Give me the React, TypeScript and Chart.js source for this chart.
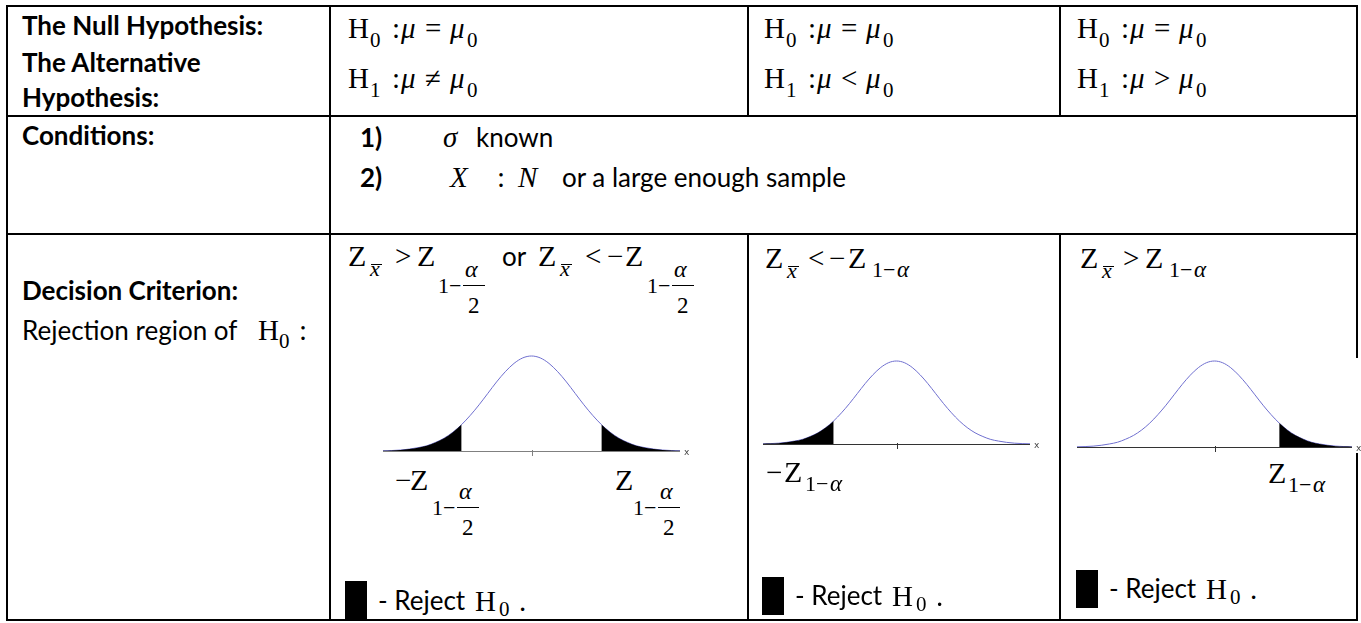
import React, { useEffect, useRef } from "react";
import { Chart, registerables } from "chart.js";

Chart.register(...registerables);

// ---- data ----
const zGrid = [-3.4, -3.2, -3.0, -2.8, -2.6, -2.4, -2.2, -2.0, -1.8, -1.6, -1.4, -1.2, -1.0, -0.8, -0.6, -0.4, -0.2, 0, 0.2, 0.4, 0.6, 0.8, 1.0, 1.2, 1.4, 1.6, 1.8, 2.0, 2.2, 2.4, 2.6, 2.8, 3.0, 3.2, 3.4];
const density = [0.001, 0.002, 0.004, 0.008, 0.014, 0.022, 0.036, 0.054, 0.079, 0.111, 0.150, 0.194, 0.242, 0.290, 0.333, 0.368, 0.391, 0.399, 0.391, 0.368, 0.333, 0.290, 0.242, 0.194, 0.150, 0.111, 0.079, 0.054, 0.036, 0.022, 0.014, 0.008, 0.004, 0.002, 0.001];
const twoTailedRegions = [[-3.4, -1.6], [1.6, 3.4]];
const leftTailRegions = [[-3.4, -1.6]];
const rightTailRegions = [[1.6, 3.4]];

const SERIF = '"Liberation Serif", "Times New Roman", serif';
const SANS = 'Lato, "Open Sans", sans-serif';
const KB: Record<string, number> = { serif: 0.8375, sans: 0.887 };

type TP = { x: number; y: number; s: string; f?: "serif" | "sans"; size?: number; it?: boolean; b?: boolean };
function T({ x, y, s, f = "serif", size = 29, it = false, b = false }: TP) {
  return (
    <div
      style={{
        position: "absolute",
        left: x,
        top: y - KB[f] * size,
        fontFamily: f === "serif" ? SERIF : SANS,
        fontSize: size,
        lineHeight: 1,
        fontStyle: it ? "italic" : "normal",
        fontWeight: b ? 700 : 400,
        whiteSpace: "pre",
        color: "#000",
      }}
    >
      {s}
    </div>
  );
}

function HL({ x, y, w, h = 1 }: { x: number; y: number; w: number; h?: number }) {
  return <div style={{ position: "absolute", left: x, top: y, width: w, height: h, background: "#000" }} />;
}

function Box({ x, y, w, h }: { x: number; y: number; w: number; h: number }) {
  return <div style={{ position: "absolute", left: x, top: y, width: w, height: h, background: "#000" }} />;
}

type Geo = { cl: number; ct: number; cw: number; ch: number; ax0: number; ax1: number; axY: number; peakY: number; axisColor: string };

function Curve({ regions, g }: { regions: number[][]; g: Geo }) {
  const ref = useRef<HTMLCanvasElement>(null);
  useEffect(() => {
    const pts = zGrid.map((x, i) => ({ x, y: density[i] }));
    const padTop = 1;
    const areaH = g.axY - (g.ct + padTop);
    const ymax = (0.399 * areaH) / (g.axY - g.peakY);
    const datasets: any[] = regions.map(([a, b]) => ({
      data: pts.filter((p) => p.x >= a - 1e-9 && p.x <= b + 1e-9),
      borderWidth: 0,
      borderColor: "rgba(0,0,0,0)",
      backgroundColor: "#000",
      fill: "origin",
      pointRadius: 0,
      cubicInterpolationMode: "monotone",
    }));
    datasets.push({
      data: pts,
      borderColor: "#6f6fcf",
      borderWidth: 1,
      fill: false,
      pointRadius: 0,
      cubicInterpolationMode: "monotone",
    });
    const axisPlugin = {
      id: "axisLine",
      beforeDatasetsDraw(chart: any) {
        const { ctx, chartArea, scales } = chart;
        const y0 = Math.round(scales.y.getPixelForValue(0));
        const xc = Math.round(scales.x.getPixelForValue(0));
        ctx.save();
        ctx.strokeStyle = g.axisColor;
        ctx.lineWidth = 1;
        ctx.beginPath();
        ctx.moveTo(chartArea.left, y0 + 0.5);
        ctx.lineTo(chartArea.right, y0 + 0.5);
        ctx.stroke();
        ctx.beginPath();
        ctx.moveTo(xc + 0.5, y0 - 1);
        ctx.lineTo(xc + 0.5, y0 + 5);
        ctx.stroke();
        ctx.fillStyle = "#444";
        ctx.font = '9px "DejaVu Sans"';
        ctx.textBaseline = "middle";
        ctx.fillText("x", chartArea.right + 4, y0 + 2);
        ctx.restore();
      },
    };
    const chart = new Chart(ref.current as HTMLCanvasElement, {
      type: "line",
      data: { datasets },
      options: {
        animation: false,
        responsive: false,
        maintainAspectRatio: false,
        events: [],
        layout: {
          padding: {
            left: g.ax0 - g.cl,
            right: g.cl + g.cw - g.ax1,
            top: padTop,
            bottom: g.ct + g.ch - g.axY,
          },
        },
        plugins: { legend: { display: false }, tooltip: { enabled: false } },
        scales: {
          x: { type: "linear", min: -3.4, max: 3.4, display: false },
          y: { min: 0, max: ymax, display: false },
        },
      },
      plugins: [axisPlugin],
    } as any);
    return () => chart.destroy();
  }, []);
  return (
    <canvas
      ref={ref}
      width={g.cw}
      height={g.ch}
      style={{ position: "absolute", left: g.cl, top: g.ct, width: g.cw, height: g.ch, background: "#fff" }}
    />
  );
}

function Hyp({ x, y, sub, rel }: { x: number; y: number; sub: string; rel: string }) {
  return (
    <>
      <T x={x} y={y} s="H" />
      <T x={x + 22} y={y + 10} s={sub} size={21} />
      <T x={x + 44} y={y} s=":" />
      <T x={x + 53} y={y} s="μ" it />
      <T x={x + 77} y={y} s={rel} />
      <T x={x + 102} y={y} s="μ" it />
      <T x={x + 119} y={y + 10} s="0" size={21} />
    </>
  );
}

// Z_{1 - α/2} style subscript block
function HalfSub({ x, y }: { x: number; y: number }) {
  return (
    <>
      <T x={x} y={y + 27} s="1" size={22} />
      <T x={x + 11} y={y + 27} s="−" size={22} />
      <T x={x + 27} y={y + 11} s="α" size={24} it />
      <HL x={x + 25} y={y + 19} w={22} />
      <T x={x + 30} y={y + 47} s="2" size={23} />
    </>
  );
}

function OneMinusAlpha({ x, y }: { x: number; y: number }) {
  return (
    <>
      <T x={x} y={y} s="1" size={22} />
      <T x={x + 11} y={y} s="−" size={22} />
      <T x={x + 25} y={y} s="α" size={23} it />
    </>
  );
}

function Zx({ x, y }: { x: number; y: number }) {
  return (
    <>
      <T x={x} y={y} s="Z" size={30} />
      <T x={x + 22} y={y + 10} s="x" size={22} it />
      <HL x={x + 23} y={y - 2} w={11} />
    </>
  );
}

function Reject({ bx, by, bh, y }: { bx: number; by: number; bh: number; y: number }) {
  return (
    <>
      <Box x={bx} y={by} w={22} h={bh} />
      <T x={bx + 33} y={y} s="- Reject" f="sans" size={26} />
      <T x={bx + 130} y={y + 1} s="H" />
      <T x={bx + 154} y={y + 7} s="0" size={21} />
      <T x={bx + 174} y={y + 1} s="." />
    </>
  );
}

export default function App() {
  const border = (x: number, y: number, w: number, h: number, key: string) => (
    <div key={key} style={{ position: "absolute", left: x, top: y, width: w, height: h, background: "#000" }} />
  );
  const vx = [6, 329, 747, 1059, 1356];
  const hy = [5, 115, 233, 619];
  const lines: any[] = [];
  hy.forEach((y, i) => lines.push(border(6, y, 1352, 2, "h" + i)));
  lines.push(border(vx[0], 5, 2, 616, "v0"));
  lines.push(border(vx[1], 5, 2, 616, "v1"));
  lines.push(border(vx[2], 5, 2, 112, "v2a"));
  lines.push(border(vx[3], 5, 2, 112, "v3a"));
  lines.push(border(vx[2], 233, 2, 388, "v2b"));
  lines.push(border(vx[3], 233, 2, 388, "v3b"));
  lines.push(border(vx[4], 5, 2, 616, "v4"));

  const g2: Geo = { cl: 376, ct: 348, cw: 322, ch: 114, ax0: 383, ax1: 680, axY: 451, peakY: 356, axisColor: "#808080" };
  const g3: Geo = { cl: 756, ct: 352, cw: 292, ch: 106, ax0: 763, ax1: 1030, axY: 444, peakY: 361, axisColor: "#333" };
  const g4: Geo = { cl: 1072, ct: 358, cw: 289, ch: 95, ax0: 1077, ax1: 1352, axY: 447, peakY: 361, axisColor: "#333" };

  return (
    <div style={{ position: "absolute", left: 0, top: 0, width: 1361, height: 623, background: "#fff", overflow: "hidden" }}>
      {lines}

      {/* Row 1 */}
      <T x={22} y={35} s="The Null Hypothesis:" f="sans" size={26} b />
      <T x={22} y={72} s="The Alternative" f="sans" size={26} b />
      <T x={22} y={107} s="Hypothesis:" f="sans" size={26} b />
      <Hyp x={348} y={38} sub="0" rel="=" />
      <Hyp x={348} y={88} sub="1" rel="≠" />
      <Hyp x={764} y={38} sub="0" rel="=" />
      <Hyp x={764} y={88} sub="1" rel="<" />
      <Hyp x={1077} y={38} sub="0" rel="=" />
      <Hyp x={1077} y={88} sub="1" rel=">" />

      {/* Row 2 */}
      <T x={22} y={145} s="Conditions:" f="sans" size={26} b />
      <T x={360} y={147} s="1)" f="sans" size={26} b />
      <T x={443} y={147} s="σ" it />
      <T x={476} y={147} s="known" f="sans" size={26} />
      <T x={360} y={187} s="2)" f="sans" size={26} b />
      <T x={450} y={187} s="X" it />
      <T x={497} y={187} s=":" />
      <T x={518} y={187} s="N" it />
      <T x={562} y={187} s="or a large enough sample" f="sans" size={26} />

      {/* Row 3, column 1 */}
      <T x={22} y={300} s="Decision Criterion:" f="sans" size={26} b />
      <T x={22} y={340} s="Rejection region of" f="sans" size={26} />
      <T x={258} y={340} s="H" />
      <T x={279} y={349} s="0" size={21} />
      <T x={299} y={340} s=":" />

      {/* Row 3, column 2 */}
      <Zx x={348} y={266} />
      <T x={395} y={266} s=">" />
      <T x={417} y={266} s="Z" size={30} />
      <HalfSub x={438} y={266} />
      <T x={502} y={266} s="or" f="sans" size={26} />
      <Zx x={538} y={266} />
      <T x={585} y={266} s="<" />
      <T x={607} y={266} s="−" />
      <T x={625} y={266} s="Z" size={30} />
      <HalfSub x={647} y={266} />
      <Curve regions={twoTailedRegions} g={g2} />
      <T x={395} y={490} s="−" />
      <T x={410} y={490} s="Z" size={30} />
      <HalfSub x={432} y={488} />
      <T x={615} y={490} s="Z" size={30} />
      <HalfSub x={633} y={488} />
      <Reject bx={345} by={581} bh={38} y={610} />

      {/* Row 3, column 3 */}
      <Zx x={765} y={268} />
      <T x={808} y={268} s="<" />
      <T x={829} y={268} s="−" />
      <T x={848} y={268} s="Z" size={30} />
      <OneMinusAlpha x={872} y={277} />
      <Curve regions={leftTailRegions} g={g3} />
      <T x={766} y={482} s="−" />
      <T x={784} y={482} s="Z" size={30} />
      <OneMinusAlpha x={805} y={491} />
      <Reject bx={762} by={577} bh={38} y={605} />

      {/* Row 3, column 4 */}
      <Zx x={1080} y={268} />
      <T x={1123} y={268} s=">" />
      <T x={1145} y={268} s="Z" size={30} />
      <OneMinusAlpha x={1169} y={277} />
      <Curve regions={rightTailRegions} g={g4} />
      <T x={1268} y={483} s="Z" size={30} />
      <OneMinusAlpha x={1288} y={492} />
      <Reject bx={1076} by={570} bh={38} y={598} />
    </div>
  );
}
